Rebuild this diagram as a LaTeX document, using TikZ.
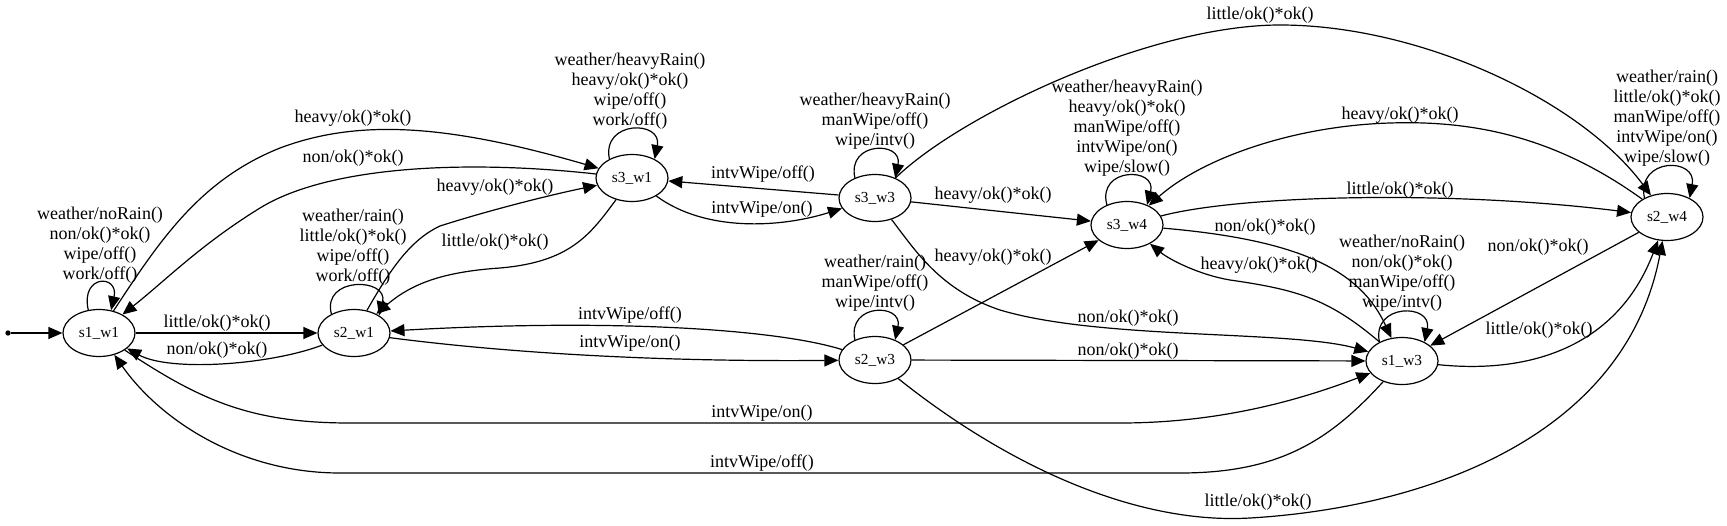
\documentclass[tikz,border=0pt]{standalone}
\usepackage{fontspec}
\setmainfont{Liberation Serif}
\usetikzlibrary{shapes.geometric,arrows.meta}
\begin{document}
\begin{tikzpicture}[x=0.75pt,y=-0.75pt,
  st/.style={draw,ellipse,line width=0.9pt,minimum width=54pt,minimum height=35.25pt,inner sep=0pt,font=\fontsize{11.5}{12}\selectfont},
  lbl/.style={align=center,inner sep=0pt,font=\fontsize{13.5}{15}\selectfont},
  conn/.style={draw,line width=0.9pt,-{Triangle[length=10.5pt,width=9pt]}},
]
\useasboundingbox (0,0) rectangle (1727,525);

% states
\node[circle,fill,inner sep=0pt,minimum size=4pt] (init) at (8,333) {};
\node[st] (s1w1) at (99,333) {s1\_w1};
\node[st] (s2w1) at (354,333) {s2\_w1};
\node[st] (s3w1) at (632,178) {s3\_w1};
\node[st] (s3w3) at (875,198) {s3\_w3};
\node[st] (s3w4) at (1127,225) {s3\_w4};
\node[st] (s2w3) at (875,360) {s2\_w3};
\node[st] (s1w3) at (1402,361) {s1\_w3};
\node[st] (s2w4) at (1667,217) {s2\_w4};

% connectors
\draw[conn] (init) -- (s1w1);
\draw[conn] (s1w1.115) .. controls +(-8,-36) and +(8,-36) .. (s1w1.62);
\draw[conn] (s1w1) -- (s2w1);
\draw[conn] (s2w1) .. controls (270,365) and (170,372) .. (s1w1);
\draw[conn] (s2w1.140) .. controls +(-10,-38) and +(10,-38) .. (s2w1.35);
\draw[conn] (s3w1) .. controls (470,160) and (330,165) .. (260,208) .. controls (200,245) and (165,281) .. (s1w1);
\draw[conn] (s1w1) .. controls (160,240) and (200,180) .. (280,148) .. controls (360,118) and (450,125) .. (s3w1);
\draw[conn] (s2w1) .. controls (390,270) and (410,240) .. (440,226) .. controls (490,210) and (550,195) .. (s3w1);
\draw[conn] (s3w1) .. controls (590,235) and (570,262) .. (500,268) .. controls (440,272) and (410,285) .. (s2w1);
\draw[conn] (s3w1.140) .. controls +(-8,-39) and +(8,-39) .. (s3w1.40);
\draw[conn] (s3w3) -- (s3w1);
\draw[conn] (s3w1) .. controls (705,232) and (780,228) .. (s3w3);
\draw[conn] (s3w3.135) .. controls +(-8,-37) and +(8,-37) .. (s3w3.45);
\draw[conn] (s3w3) -- (s3w4);
\draw[conn] (s3w3) .. controls (960,115) and (1150,25) .. (1280,25) .. controls (1420,25) and (1580,100) .. (s2w4);
\draw[conn] (s3w3) .. controls (915,250) and (940,290) .. (1000,310) .. controls (1100,340) and (1290,330) .. (s1w3);
\draw[conn] (s2w3) -- (s3w4);
\draw[conn] (s2w3.135) .. controls +(-8,-37) and +(8,-37) .. (s2w3.45);
\draw[conn] (s2w3) -- (s1w3);
\draw[conn] (s2w3) .. controls (1000,460) and (1130,525) .. (1250,518) .. controls (1420,508) and (1625,440) .. (s2w4);
\draw[conn] (s2w3) .. controls (780,330) and (620,318) .. (s2w1);
\draw[conn] (s2w1) .. controls (500,352) and (650,362) .. (s2w3);
\draw[conn] (s1w1) .. controls (200,400) and (250,423) .. (350,423) -- (1120,423) .. controls (1220,423) and (1300,400) .. (s1w3);
\draw[conn] (s1w3) .. controls (1330,440) and (1280,473) .. (1180,473) -- (340,473) .. controls (240,473) and (160,420) .. (s1w1);
\draw[conn] (s3w4.135) .. controls +(-10,-38) and +(10,-38) .. (s3w4.45);
\draw[conn] (s2w4) .. controls (1560,140) and (1480,120) .. (1390,123) .. controls (1290,126) and (1200,160) .. (s3w4);
\draw[conn] (s3w4) .. controls (1240,195) and (1450,190) .. (s2w4);
\draw[conn] (s3w4) .. controls (1300,240) and (1360,270) .. (s1w3);
\draw[conn] (s1w3) .. controls (1330,300) and (1300,290) .. (1230,280) .. controls (1200,275) and (1170,260) .. (s3w4);
\draw[conn] (s1w3.140) .. controls +(-8,-39) and +(8,-39) .. (s1w3.40);
\draw[conn] (s2w4) -- (s1w3);
\draw[conn] (s1w3) .. controls (1540,375) and (1620,340) .. (s2w4);
\draw[conn] (s2w4.140) .. controls +(-8,-41) and +(8,-41) .. (s2w4.40);

% loop labels
\node[lbl] (L1) at (100,245) {weather/noRain()\\non/ok()*ok()\\wipe/off()\\work/off()};
\node[lbl] (L2) at (353,247) {weather/rain()\\little/ok()*ok()\\wipe/off()\\work/off()};
\node[lbl] (L3) at (630,91) {weather/heavyRain()\\heavy/ok()*ok()\\wipe/off()\\work/off()};
\node[lbl] (L4) at (875,121) {weather/heavyRain()\\manWipe/off()\\wipe/intv()};
\node[lbl] (L5) at (875,283) {weather/rain()\\manWipe/off()\\wipe/intv()};
\node[lbl] (L6) at (1127,128) {weather/heavyRain()\\heavy/ok()*ok()\\manWipe/off()\\intvWipe/on()\\wipe/slow()};
\node[lbl] (L7) at (1402,273) {weather/noRain()\\non/ok()*ok()\\manWipe/off()\\wipe/intv()};
\node[lbl] (L8) at (1667,118) {weather/rain()\\little/ok()*ok()\\manWipe/off()\\intvWipe/on()\\wipe/slow()};

% edge labels
\node[lbl] (e1) at (217,323) {little/ok()*ok()};
\node[lbl] (e2) at (217,350) {non/ok()*ok()};
\node[lbl] (e3) at (353,118) {heavy/ok()*ok()};
\node[lbl] (e4) at (353,158) {non/ok()*ok()};
\node[lbl] (e5) at (495,187) {heavy/ok()*ok()};
\node[lbl] (e6) at (495,242) {little/ok()*ok()};
\node[lbl] (e7) at (763,174) {intvWipe/off()};
\node[lbl] (e8) at (762,209) {intvWipe/on()};
\node[lbl] (e9) at (993,195) {heavy/ok()*ok()};
\node[lbl] (e10) at (1260,15) {little/ok()*ok()};
\node[lbl] (e11) at (1128,318) {non/ok()*ok()};
\node[lbl] (e12) at (993,257) {heavy/ok()*ok()};
\node[lbl] (e13) at (1128,351) {non/ok()*ok()};
\node[lbl] (e14) at (1258,502) {little/ok()*ok()};
\node[lbl] (e15) at (630,315) {intvWipe/off()};
\node[lbl] (e16) at (630,343) {intvWipe/on()};
\node[lbl] (e17) at (762,413) {intvWipe/on()};
\node[lbl] (e18) at (762,463) {intvWipe/off()};
\node[lbl] (e19) at (1400,115) {heavy/ok()*ok()};
\node[lbl] (e20) at (1400,190) {little/ok()*ok()};
\node[lbl] (e21) at (1265,227) {non/ok()*ok()};
\node[lbl] (e22) at (1259,265) {heavy/ok()*ok()};
\node[lbl] (e23) at (1538,247) {non/ok()*ok()};
\node[lbl] (e24) at (1539,330) {little/ok()*ok()};
\end{tikzpicture}
\end{document}
